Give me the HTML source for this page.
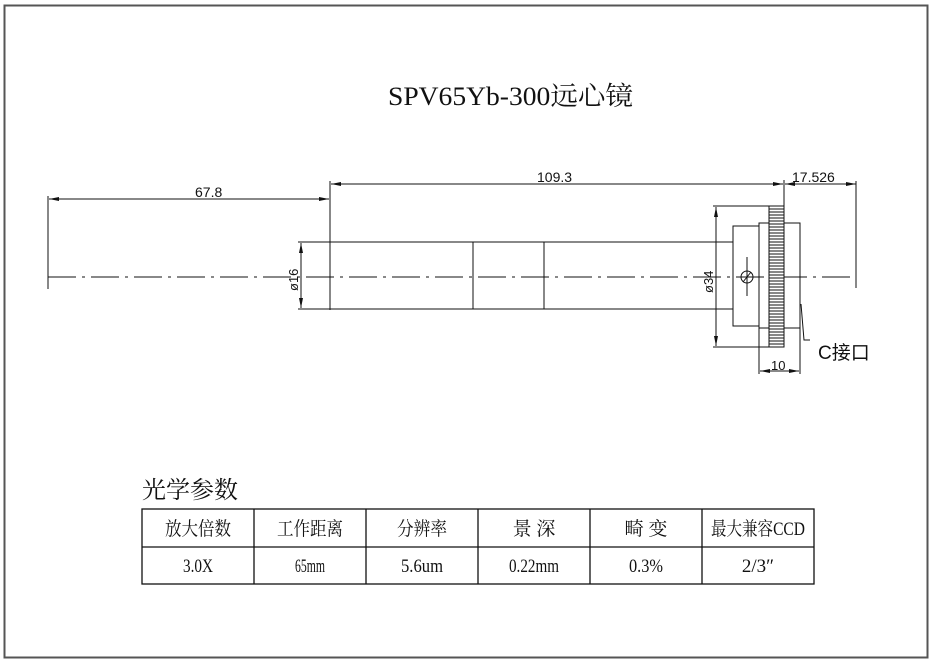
<!DOCTYPE html>
<html><head><meta charset="utf-8"><style>
html,body{margin:0;padding:0;background:#fff;width:933px;height:663px;overflow:hidden}
svg{display:block}
text{fill:#111}
.s{font-family:"Liberation Serif","Noto Serif CJK SC",serif}
.a{font-family:"Liberation Sans","Noto Sans CJK SC",sans-serif}
</style></head><body>
<svg width="933" height="663" viewBox="0 0 933 663" xmlns="http://www.w3.org/2000/svg">
<defs>
<marker id="ar" viewBox="0 0 10 4" refX="10" refY="2" markerWidth="10" markerHeight="4" orient="auto-start-reverse" markerUnits="userSpaceOnUse">
<path d="M0,0 L10,2 L0,4 z" fill="#111"/></marker>
</defs>
<rect x="4.5" y="5.5" width="923" height="652" fill="none" stroke="#555" stroke-width="2"/>
<text class="s" x="388" y="105" font-size="26" textLength="245" lengthAdjust="spacingAndGlyphs">SPV65Yb-300远心镜</text>

<g stroke="#111" stroke-width="1" fill="none">
<line x1="48" y1="277" x2="856" y2="277" stroke-dasharray="28,6,3,6"/>
<line x1="48" y1="196" x2="48" y2="289"/>
<line x1="49" y1="199" x2="329" y2="199" marker-start="url(#ar)" marker-end="url(#ar)"/>
<line x1="330" y1="181" x2="330" y2="310"/>
<line x1="331" y1="184" x2="783" y2="184" marker-start="url(#ar)" marker-end="url(#ar)"/>
<line x1="784" y1="180" x2="784" y2="347"/>
<line x1="785" y1="184" x2="856" y2="184" marker-start="url(#ar)" marker-end="url(#ar)"/>
<line x1="856" y1="181" x2="856" y2="288"/>
<line x1="298" y1="242" x2="733" y2="242"/>
<line x1="298" y1="309" x2="733" y2="309"/>
<line x1="473" y1="242" x2="473" y2="309"/>
<line x1="544" y1="242" x2="544" y2="309"/>
<line x1="301" y1="243" x2="301" y2="308" marker-start="url(#ar)" marker-end="url(#ar)"/>
<rect x="733" y="226" width="26" height="100"/>
<rect x="759" y="223" width="41" height="105"/>
<rect x="769" y="206" width="15" height="141" fill="#fff"/>
<line x1="713" y1="206" x2="769" y2="206"/>
<line x1="713" y1="347" x2="769" y2="347"/>
<line x1="716" y1="207" x2="716" y2="346" marker-start="url(#ar)" marker-end="url(#ar)"/>
<circle cx="747" cy="277" r="6"/>
<line x1="743" y1="282" x2="751" y2="272"/>
<line x1="747" y1="257" x2="747" y2="296"/>
<line x1="759" y1="328" x2="759" y2="374"/>
<line x1="800" y1="328" x2="800" y2="374"/>
<line x1="760" y1="371" x2="799" y2="371" marker-start="url(#ar)" marker-end="url(#ar)"/>
<polyline points="801,304 804,340 810,340"/>
</g>
<g stroke="#111" stroke-width="1">
<path d="M769 209H784M769 212H784M769 215H784M769 218H784M769 221H784M769 224H784M769 227H784M769 230H784M769 233H784M769 236H784M769 239H784M769 242H784M769 245H784M769 248H784M769 251H784M769 254H784M769 257H784M769 260H784M769 263H784M769 266H784M769 269H784M769 272H784M769 275H784M769 278H784M769 281H784M769 284H784M769 287H784M769 290H784M769 293H784M769 296H784M769 299H784M769 302H784M769 305H784M769 308H784M769 311H784M769 314H784M769 317H784M769 320H784M769 323H784M769 326H784M769 329H784M769 332H784M769 335H784M769 338H784M769 341H784M769 344H784"/>
</g>
<text class="a" x="195" y="197" font-size="14">67.8</text>
<text class="a" x="537" y="182" font-size="14">109.3</text>
<text class="a" x="792" y="182" font-size="14">17.526</text>
<text class="a" x="771" y="370" font-size="13">10</text>
<text class="a" font-size="13" transform="translate(298,291) rotate(-90)">ø16</text>
<text class="a" font-size="13" transform="translate(713,293) rotate(-90)">ø34</text>
<text class="a" x="818" y="359" font-size="19">C接口</text>

<text class="s" x="142" y="498" font-size="24">光学参数</text>
<g stroke="#111" stroke-width="1.3" fill="none">
<rect x="142" y="509" width="672" height="75"/>
<line x1="142" y1="547" x2="814" y2="547"/>
<line x1="254" y1="509" x2="254" y2="584"/>
<line x1="366" y1="509" x2="366" y2="584"/>
<line x1="478" y1="509" x2="478" y2="584"/>
<line x1="590" y1="509" x2="590" y2="584"/>
<line x1="702" y1="509" x2="702" y2="584"/>
</g>
<g class="s" font-size="19" text-anchor="middle">
<text x="198" y="535" textLength="66" lengthAdjust="spacingAndGlyphs">放大倍数</text>
<text x="310" y="535" textLength="66" lengthAdjust="spacingAndGlyphs">工作距离</text>
<text x="422" y="535" textLength="50" lengthAdjust="spacingAndGlyphs">分辨率</text>
<text x="534" y="535">景 深</text>
<text x="646" y="535">畸 变</text>
<text x="758" y="535" textLength="94" lengthAdjust="spacingAndGlyphs">最大兼容CCD</text>
<text x="198" y="572" textLength="30" lengthAdjust="spacingAndGlyphs">3.0X</text>
<text x="310" y="572" textLength="30" lengthAdjust="spacingAndGlyphs">65mm</text>
<text x="422" y="572" textLength="42" lengthAdjust="spacingAndGlyphs">5.6um</text>
<text x="534" y="572" textLength="50" lengthAdjust="spacingAndGlyphs">0.22mm</text>
<text x="646" y="572" textLength="34" lengthAdjust="spacingAndGlyphs">0.3%</text>
<text x="758" y="572">2/3″</text>
</g>
</svg>
</body></html>
